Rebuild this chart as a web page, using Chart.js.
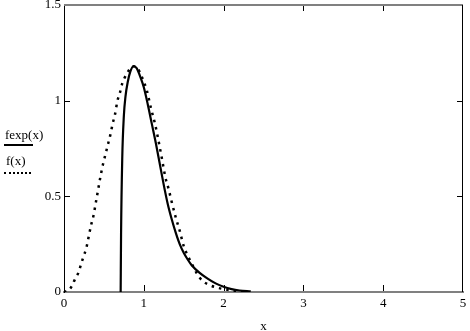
<!DOCTYPE html>
<html>
<head>
<meta charset="utf-8">
<script src="https://cdn.jsdelivr.net/npm/chart.js@4/dist/chart.umd.min.js"></script>
<style>
  body { margin: 0; background: #fff; }
  #wrap { position: relative; width: 470px; height: 331px; }
  .lg { position: absolute; font-family: "Liberation Serif", serif; font-size: 13px; color: #000; }
  .ln { position: absolute; left: 4px; width: 29px; }
</style>
</head>
<body>
<div id="wrap">
  <canvas id="plot" width="470" height="331"></canvas>
  <div class="lg" style="left:5px; top:127px;">fexp(x)</div>
  <div class="ln" style="top:144px; border-top:2px solid #000;"></div>
  <div class="lg" style="left:6px; top:153px;">f(x)</div>
  <div class="ln" style="top:172px; border-top:2px dotted #000; width:27px;"></div>
</div>
<script>
// solid curve fexp(x)
const fexpX = [0.71, 0.715, 0.73, 0.75, 0.77, 0.80, 0.83, 0.87, 0.91, 0.96, 1.0, 1.05, 1.1, 1.15, 1.2, 1.25, 1.3, 1.35, 1.4, 1.45, 1.5, 1.55, 1.6, 1.7, 1.8, 1.9, 2.0, 2.1, 2.2, 2.34];
const fexpY = [0, 0.3, 0.7, 0.92, 1.02, 1.1, 1.15, 1.18, 1.17, 1.12, 1.07, 0.98, 0.88, 0.78, 0.67, 0.56, 0.46, 0.38, 0.31, 0.25, 0.205, 0.17, 0.14, 0.10, 0.07, 0.045, 0.027, 0.015, 0.008, 0.003];

// dotted curve f(x)
const fX = [0, 0.06, 0.11, 0.14, 0.18, 0.21, 0.24, 0.28, 0.31, 0.34, 0.37, 0.40, 0.43, 0.46, 0.49, 0.52, 0.55, 0.58, 0.61, 0.64, 0.67, 0.70, 0.73, 0.76, 0.80, 0.86, 0.92, 0.98, 1.04, 1.09, 1.14, 1.18, 1.23, 1.27, 1.31, 1.35, 1.40, 1.45, 1.50, 1.55, 1.60, 1.66, 1.73, 1.82, 1.90, 2.0, 2.1, 2.2, 2.3];
const fY = [0, 0.01, 0.04, 0.07, 0.10, 0.14, 0.18, 0.23, 0.29, 0.35, 0.40, 0.47, 0.54, 0.61, 0.67, 0.72, 0.77, 0.82, 0.88, 0.93, 1.0, 1.04, 1.09, 1.12, 1.15, 1.18, 1.17, 1.12, 1.05, 0.96, 0.88, 0.80, 0.69, 0.60, 0.54, 0.47, 0.39, 0.32, 0.24, 0.19, 0.15, 0.10, 0.06, 0.037, 0.025, 0.015, 0.008, 0.004, 0.002];

const xTicks = [0, 1, 2, 3, 4, 5];
const yTicks = [0, 0.5, 1, 1.5];

const pts = (xs, ys) => xs.map((x, i) => ({ x: x, y: ys[i] }));

// frame (top, right) and inner tick marks like Mathcad
const framePlugin = {
  id: "frame",
  afterDraw(chart) {
    const c = chart.ctx, a = chart.chartArea;
    const sx = chart.scales.x, sy = chart.scales.y;
    c.save();
    c.strokeStyle = "#808080";
    c.lineWidth = 2;
    c.beginPath();
    c.moveTo(a.left, a.top);
    c.lineTo(a.right, a.top);
    c.stroke();
    c.strokeStyle = "#000";
    c.lineWidth = 1;
    c.beginPath();
    c.moveTo(Math.round(a.right) - 0.5, a.top);
    c.lineTo(Math.round(a.right) - 0.5, a.bottom);
    c.stroke();
    c.beginPath();
    xTicks.slice(1, -1).forEach((v) => {
      const px = Math.round(sx.getPixelForValue(v)) + 0.5;
      c.moveTo(px, a.bottom - 1); c.lineTo(px, a.bottom - 7);
      c.moveTo(px, a.top + 1); c.lineTo(px, a.top + 6);
    });
    yTicks.slice(1, -1).forEach((v) => {
      const py = Math.round(sy.getPixelForValue(v)) + 0.5;
      c.moveTo(a.left, py); c.lineTo(a.left + 6, py);
      c.moveTo(a.right, py); c.lineTo(a.right - 6, py);
    });
    c.stroke();
    c.restore();
  }
};

const tickFont = { family: "Liberation Serif", size: 13 };

new Chart(document.getElementById("plot").getContext("2d"), {
  type: "scatter",
  data: {
    datasets: [
      {
        label: "fexp(x)",
        data: pts(fexpX, fexpY),
        showLine: true,
        borderColor: "#000",
        borderWidth: 2.2,
        pointRadius: 0,
        cubicInterpolationMode: "monotone"
      },
      {
        label: "f(x)",
        data: pts(fX, fY),
        showLine: true,
        borderColor: "#000",
        borderWidth: 2.5,
        borderDash: [2.5, 5],
        pointRadius: 0,
        cubicInterpolationMode: "monotone"
      }
    ]
  },
  options: {
    responsive: false,
    animation: false,
    layout: { padding: { left: 0, top: 5, right: 7, bottom: 0 } },
    plugins: {
      legend: { display: false },
      tooltip: { enabled: false }
    },
    scales: {
      x: {
        type: "linear",
        min: 0,
        max: 5,
        afterBuildTicks: (s) => { s.ticks = xTicks.map((v) => ({ value: v })); },
        afterFit: (s) => { s.height = 39; s.paddingLeft = 0; s.paddingRight = 0; },
        ticks: { color: "#000", font: tickFont, padding: 4, maxRotation: 0, callback: (v) => String(v) },
        grid: { display: true, drawOnChartArea: false, drawTicks: false },
        border: { color: "#808080", width: 2 },
        title: { display: true, text: "x", color: "#000", font: tickFont, padding: { top: 0, bottom: -3 } }
      },
      y: {
        type: "linear",
        min: 0,
        max: 1.5,
        afterBuildTicks: (s) => { s.ticks = yTicks.map((v) => ({ value: v })); },
        afterFit: (s) => { s.width = 64; s.paddingTop = 0; s.paddingBottom = 0; },
        ticks: { color: "#000", font: tickFont, padding: 3, callback: (v) => String(v) },
        grid: { display: true, drawOnChartArea: false, drawTicks: false },
        border: { color: "#000", width: 1 }
      }
    }
  },
  plugins: [framePlugin]
});
</script>
</body>
</html>
